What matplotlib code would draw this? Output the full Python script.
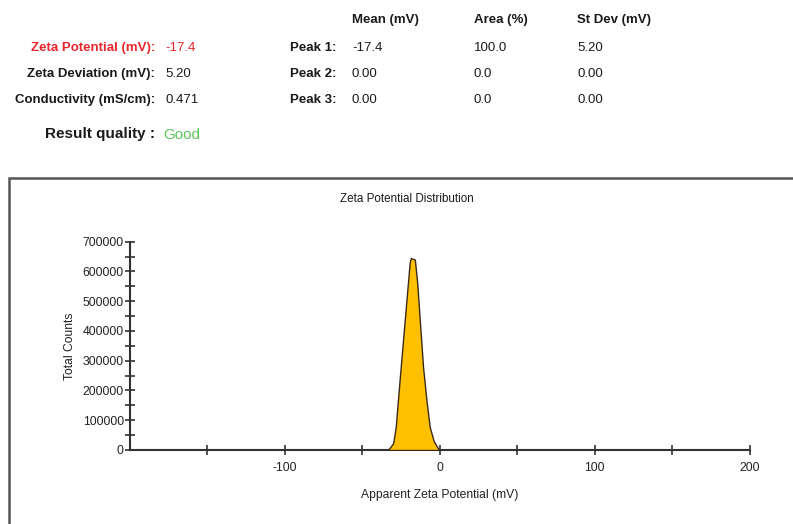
import matplotlib
matplotlib.use("Agg")
import matplotlib.pyplot as plt
from matplotlib.patches import Rectangle
from matplotlib.ticker import FixedLocator, NullFormatter

plt.rcParams['font.family'] = ['Liberation Sans', 'DejaVu Sans']

# ---- data ----
zeta_mv = [-33.4, -30.1, -28.4, -26.3, -23.7, -21.5, -19.4, -18.7, -16.1,
           -14.6, -12.9, -10.8, -8.6, -6.5, -3.9, -0.5]
counts = [0, 22500, 78000, 212000, 370000, 504000, 630000, 645000, 640000,
          565000, 437000, 280000, 168000, 78000, 30000, 0]

summary_labels = ["Zeta Potential (mV):", "Zeta Deviation (mV):", "Conductivity (mS/cm):"]
summary_values = ["-17.4", "5.20", "0.471"]
peak_headers = ["Mean (mV)", "Area (%)", "St Dev (mV)"]
peak_labels = ["Peak 1:", "Peak 2:", "Peak 3:"]
peak_mean = ["-17.4", "0.00", "0.00"]
peak_area = ["100.0", "0.0", "0.0"]
peak_sd = ["5.20", "0.00", "0.00"]
quality = "Good"

x_major = [-100, 0, 100, 200]
x_minor = [-150, -50, 50, 150]
y_major = [0, 100000, 200000, 300000, 400000, 500000, 600000, 700000]
y_minor = [50000, 150000, 250000, 350000, 450000, 550000, 650000]

W, H = 793, 524
fig = plt.figure(figsize=(W / 100, H / 100), dpi=100)

def fx(px):
    return px / W

def fy(py):
    return 1 - py / H

red = "#e8262b"
dark = "#1a1a1a"
fs = 9.5

# ---- header text ----
for lab, val, py, in zip(summary_labels, summary_values, [48, 74, 100]):
    col = red if lab.startswith("Zeta Potential") else dark
    fig.text(fx(155), fy(py), lab, ha="right", va="center", fontsize=fs,
             fontweight="bold", color=col)
    fig.text(fx(165), fy(py), val, ha="left", va="center", fontsize=fs, color=col)

fig.text(fx(155), fy(134), "Result quality :", ha="right", va="center",
         fontsize=11, fontweight="bold", color=dark)
fig.text(fx(163), fy(135), quality, ha="left", va="center", fontsize=11,
         color="#5cc45c")

col_x = [352, 474, 577]
for hdr, cx in zip(peak_headers, col_x):
    fig.text(fx(cx), fy(20), hdr, ha="left", va="center", fontsize=fs,
             fontweight="bold", color=dark)
for i, py in enumerate([48, 74, 100]):
    fig.text(fx(290), fy(py), peak_labels[i], ha="left", va="center",
             fontsize=fs, fontweight="bold", color=dark)
    fig.text(fx(col_x[0]), fy(py), peak_mean[i], ha="left", va="center", fontsize=fs, color=dark)
    fig.text(fx(col_x[1]), fy(py), peak_area[i], ha="left", va="center", fontsize=fs, color=dark)
    fig.text(fx(col_x[2]), fy(py), peak_sd[i], ha="left", va="center", fontsize=fs, color=dark)

# ---- chart frame ----
fig.patches.append(Rectangle((fx(9), fy(600)), 1.2, fy(178) - fy(600),
                             transform=fig.transFigure, fill=False,
                             edgecolor="#555555", linewidth=1.8))
fig.text(fx(407), fy(199), "Zeta Potential Distribution", ha="center",
         va="center", fontsize=8.4, color=dark)

# ---- axes ----
ax_l, ax_r, ax_t, ax_b = 130, 749.5, 241.7, 450
ax = fig.add_axes([fx(ax_l), fy(ax_b), (ax_r - ax_l) / W, (ax_b - ax_t) / H])
ax.fill_between(zeta_mv, counts, 0, facecolor="#ffc000", edgecolor="#3a2a1a",
                linewidth=1.0, zorder=3)
ax.set_xlim(-200, 200)
ax.set_ylim(0, 700000)

for s in ["top", "right"]:
    ax.spines[s].set_visible(False)
for s in ["left", "bottom"]:
    ax.spines[s].set_color("#333333")
    ax.spines[s].set_linewidth(1.5)

ax.xaxis.set_major_locator(FixedLocator(x_major))
ax.xaxis.set_minor_locator(FixedLocator(x_minor))
ax.xaxis.set_minor_formatter(NullFormatter())
ax.set_xticklabels([str(v) for v in x_major])
ax.yaxis.set_major_locator(FixedLocator(y_major))
ax.yaxis.set_minor_locator(FixedLocator(y_minor))
ax.yaxis.set_minor_formatter(NullFormatter())
ax.set_yticklabels([str(v) for v in y_major])

ax.tick_params(axis="both", which="both", direction="inout", length=7,
               width=1.2, color="#333333", labelsize=8.8, labelcolor="#222222")
ax.tick_params(axis="x", which="both", pad=5)
ax.tick_params(axis="y", which="both", pad=1)

ax.set_xlabel("Apparent Zeta Potential (mV)", fontsize=8.7, color="#222222", labelpad=11)
ax.set_ylabel("Total Counts", fontsize=8.7, color="#222222", labelpad=5)

fig.savefig("out.png", dpi=100, facecolor="white")
